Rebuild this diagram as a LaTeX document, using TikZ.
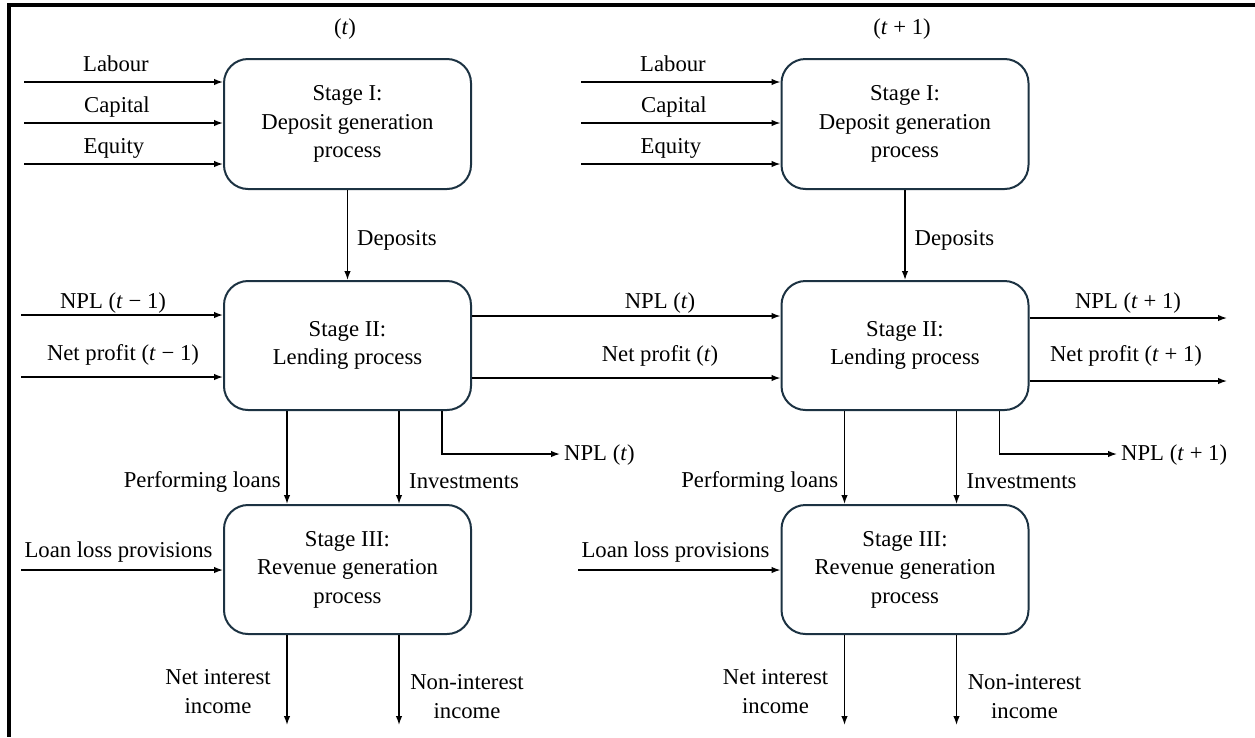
\documentclass[tikz,border=0pt]{standalone}
\usepackage{fontspec}
\setmainfont{Liberation Serif}
\usetikzlibrary{arrows.meta}
\definecolor{boxcol}{RGB}{28,50,66}
\newcommand{\figfont}{\fontsize{22.7pt}{28.5pt}\selectfont}
\newcommand{\ti}{\textit{t}}
\begin{document}
\begin{tikzpicture}[x=1pt,y=-1pt,
  every node/.style={font=\figfont},
  stagebox/.style={draw=boxcol, line width=2pt, rounded corners=24pt,
    minimum width=247pt, minimum height=130pt, align=center, inner sep=0pt},
  flow/.style={line width=1.4pt, -{Latex[length=9pt,width=6.5pt]}},
  lbl/.style={inner sep=0pt, anchor=base},
  lblw/.style={inner sep=0pt, anchor=base west},
  lble/.style={inner sep=0pt, anchor=base east},
  lblc/.style={inner sep=0pt, anchor=center, align=center},
  frame/.style={line width=3.5pt}
]
\useasboundingbox (0,0) rectangle (1255,737);

% frame
\coordinate (frTR) at (1255,5);
\coordinate (frTL) at (9,5);
\coordinate (frBL) at (9,737);
\draw[frame] (frTR) -- (frTL) -- (frBL);

% ---------------- boxes ----------------
\node[stagebox] (S1a) at (347.5,124) {Stage I:\\Deposit generation\\process};
\node[stagebox, minimum height=129pt] (S2a) at (347.5,345.5) {Stage II:\\Lending process};
\node[stagebox, minimum height=129pt] (S3a) at (347.5,569.5) {Stage III:\\Revenue generation\\process};

\node[stagebox] (S1b) at (905,124) {Stage I:\\Deposit generation\\process};
\node[stagebox, minimum height=129pt] (S2b) at (905,345.5) {Stage II:\\Lending process};
\node[stagebox, minimum height=129pt] (S3b) at (905,569.5) {Stage III:\\Revenue generation\\process};

% ---------------- period labels ----------------
\node[lbl] (pa) at (345,34) {(\ti)};
\node[lbl] (pb) at (902,34) {(\ti\ + 1)};

% ---------------- Stage I inputs ----------------
\coordinate (labA) at (24,82);
\coordinate (capA) at (24,123);
\coordinate (equA) at (24,164);
\draw[flow] (labA) -- (labA -| S1a.west);
\draw[flow] (capA) -- (capA -| S1a.west);
\draw[flow] (equA) -- (equA -| S1a.west);
\node[lbl] (tlabA) at (116,71) {Labour};
\node[lbl] (tcapA) at (117,112) {Capital};
\node[lbl] (tequA) at (114,153) {Equity};

\coordinate (labB) at (581,82);
\coordinate (capB) at (581,123);
\coordinate (equB) at (581,164);
\draw[flow] (labB) -- (labB -| S1b.west);
\draw[flow] (capB) -- (capB -| S1b.west);
\draw[flow] (equB) -- (equB -| S1b.west);
\node[lbl] (tlabB) at (673,71) {Labour};
\node[lbl] (tcapB) at (674,112) {Capital};
\node[lbl] (tequB) at (671,153) {Equity};

% ---------------- Deposits ----------------
\draw[flow] (S1a.south) -- (S2a.north);
\draw[flow] (S1b.south) -- (S2b.north);
\node[lblw] (depA) at (357,245) {Deposits};
\node[lblw] (depB) at (914.5,245) {Deposits};

% ---------------- Stage II inputs / links ----------------
\coordinate (nplin) at (21,315);
\coordinate (npin) at (21,377);
\draw[flow] (nplin) -- (nplin -| S2a.west);
\draw[flow] (npin) -- (npin -| S2a.west);
\node[lbl] (tnplin) at (113,308) {NPL (\ti\ − 1)};
\node[lbl] (tnpin) at (123,360) {Net profit (\ti\ − 1)};

\draw[flow] (S2a.east |- 0,316) -- (S2b.west |- 0,316);
\draw[flow] (S2a.east |- 0,378) -- (S2b.west |- 0,378);
\node[lbl] (tnplmid) at (660,308) {NPL (\ti)};
\node[lbl] (tnpmid) at (660,361) {Net profit (\ti)};

\coordinate (nplout) at (1227,318);
\coordinate (npout) at (1227,381);
\draw[flow] (S2b.east |- nplout) -- (nplout);
\draw[flow] (S2b.east |- npout) -- (npout);
\node[lbl] (tnplout) at (1128,308) {NPL (\ti\ + 1)};
\node[lbl] (tnpout) at (1126,361) {Net profit (\ti\ + 1)};

% ---------------- Stage II outputs ----------------
\draw[flow] (S2a.south -| 287,0) -- (S3a.north -| 287,0);
\draw[flow] (S2a.south -| 399,0) -- (S3a.north -| 399,0);
\coordinate (nplA) at (560,454);
\draw[flow] (S2a.south -| 442,0) |- (nplA);
\node[lble] (tperfA) at (281,487) {Performing loans};
\node[lblw] (tinvA) at (409,488) {Investments};
\node[inner sep=0pt, anchor=west] (tnplA) at (564,455) {NPL (\ti)};

\draw[flow] (S2b.south -| 844.5,0) -- (S3b.north -| 844.5,0);
\draw[flow] (S2b.south -| 956.5,0) -- (S3b.north -| 956.5,0);
\coordinate (nplB) at (1117,454);
\draw[flow] (S2b.south -| 999.5,0) |- (nplB);
\node[lble] (tperfB) at (838.5,487) {Performing loans};
\node[lblw] (tinvB) at (966.5,488) {Investments};
\node[inner sep=0pt, anchor=west] (tnplB) at (1121,455) {NPL (\ti\ + 1)};

% ---------------- Stage III inputs ----------------
\coordinate (llpA) at (21,570);
\draw[flow] (llpA) -- (llpA -| S3a.west);
\node[lbl] (tllpA) at (118.5,557) {Loan loss provisions};
\coordinate (llpB) at (578,570);
\draw[flow] (llpB) -- (llpB -| S3b.west);
\node[lbl] (tllpB) at (675.5,557) {Loan loss provisions};

% ---------------- Stage III outputs ----------------
\coordinate (niA) at (287,725);
\coordinate (nonA) at (399,725);
\draw[flow] (S3a.south -| niA) -- (niA);
\draw[flow] (S3a.south -| nonA) -- (nonA);
\node[lblc] (tniA) at (218,691.5) {Net interest\\income};
\node[lblc] (tnonA) at (467,696.5) {Non-interest\\income};

\coordinate (niB) at (844.5,725);
\coordinate (nonB) at (956.5,725);
\draw[flow] (S3b.south -| niB) -- (niB);
\draw[flow] (S3b.south -| nonB) -- (nonB);
\node[lblc] (tniB) at (775.5,691.5) {Net interest\\income};
\node[lblc] (tnonB) at (1024.5,696.5) {Non-interest\\income};
\end{tikzpicture}
\end{document}
